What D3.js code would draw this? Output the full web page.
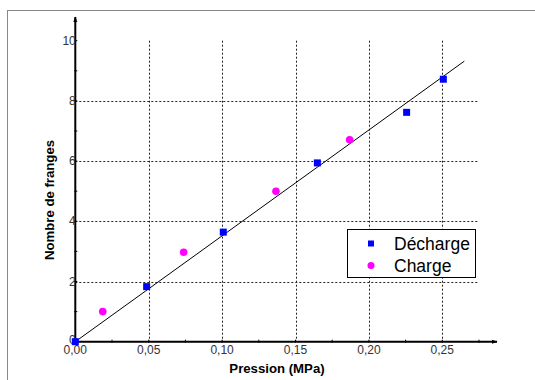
<!DOCTYPE html>
<html>
<head>
<meta charset="utf-8">
<script src="https://cdn.jsdelivr.net/npm/d3@7"></script>
<style>
  body { margin: 0; background: #fff; }
  svg { display: block; font-family: Arial, "Liberation Sans", sans-serif; }
</style>
</head>
<body>
<svg id="chart" width="535" height="380"></svg>
<script>
// data
const dechargeP = [0, 0.0486, 0.1008, 0.1649, 0.2257, 0.2507];
const dechargeN = [0, 1.83, 3.64, 5.94, 7.62, 8.72];
const chargeP = [0.0187, 0.0738, 0.1367, 0.1869];
const chargeN = [1.0, 2.97, 5.0, 6.71];
const fitP = [0, 0.265];
const fitN = [0, 9.32];
const xTicks = [0, 0.05, 0.10, 0.15, 0.20, 0.25];
const yTicks = [0, 2, 4, 6, 8, 10];

const svg = d3.select("#chart");
const x = d3.scaleLinear().domain([0, 0.25]).range([75.3, 442.3]);
const y = d3.scaleLinear().domain([0, 10]).range([341.7, 40.7]);

// outer frame
svg.append("rect")
  .attr("x", 7.5).attr("y", 10.5)
  .attr("width", 540).attr("height", 380)
  .attr("fill", "none").attr("stroke", "#888").attr("stroke-width", 1);

// grid
const grid = svg.append("g").attr("stroke", "#222").attr("stroke-width", 1).attr("stroke-dasharray", "2,2");
grid.selectAll("line.v")
  .data(xTicks.slice(1))
  .join("line")
  .attr("x1", d => Math.round(x(d)) + 0.5).attr("x2", d => Math.round(x(d)) + 0.5)
  .attr("y1", y(10)).attr("y2", y(0));
grid.selectAll("line.h")
  .data(yTicks.slice(1, 5))
  .join("line")
  .attr("y1", d => Math.round(y(d)) + 0.5).attr("y2", d => Math.round(y(d)) + 0.5)
  .attr("x1", x(0)).attr("x2", x(0.2745));

// fit line
svg.append("line")
  .attr("x1", x(fitP[0])).attr("y1", y(fitN[0]))
  .attr("x2", x(fitP[1])).attr("y2", y(fitN[1]))
  .attr("stroke", "#000").attr("stroke-width", 1);

// axes lines with arrows
svg.append("defs").append("marker")
  .attr("id", "arrow").attr("viewBox", "0 0 10 10")
  .attr("refX", 9).attr("refY", 5)
  .attr("markerWidth", 6).attr("markerHeight", 6).attr("markerUnits", "userSpaceOnUse")
  .attr("orient", "auto")
  .append("path").attr("d", "M0,1.5L10,5L0,8.5Z").attr("fill", "#000");

const axes = svg.append("g").attr("stroke", "#000").attr("stroke-width", 2);
axes.append("line")
  .attr("x1", x(0)).attr("y1", y(0)).attr("x2", 497).attr("y2", y(0))
  .attr("marker-end", "url(#arrow)");
axes.append("line")
  .attr("x1", x(0)).attr("y1", y(0)).attr("x2", x(0)).attr("y2", 17)
  .attr("marker-end", "url(#arrow)");

// ticks
const xMinor = d3.range(0, 0.2751, 0.025);
svg.append("g").selectAll("line")
  .data(xMinor)
  .join("line")
  .attr("x1", d => x(d)).attr("x2", d => x(d))
  .attr("y1", y(0) - 2).attr("y2", y(0) + 1)
  .attr("stroke", "#000").attr("stroke-width", 1);
svg.append("g").selectAll("line")
  .data(d3.range(0, 10.01, 1))
  .join("line")
  .attr("x1", x(0) - 1).attr("x2", x(0) + 2)
  .attr("y1", d => y(d)).attr("y2", d => y(d))
  .attr("stroke", "#000").attr("stroke-width", 1);

// tick labels
const fmt = d => d.toFixed(2).replace(".", ",");
svg.append("g").selectAll("text")
  .data(xTicks)
  .join("text")
  .attr("x", d => x(d)).attr("y", y(0) + 12)
  .attr("text-anchor", "middle")
  .attr("font-size", 12).attr("fill", "#333")
  .text(fmt);
svg.append("g").selectAll("text")
  .data(yTicks)
  .join("text")
  .attr("x", x(0) + 0.5).attr("y", d => y(d) + (d === 0 ? 2 : 4))
  .attr("text-anchor", "end")
  .attr("font-size", 12).attr("fill", "#333")
  .text(d => d);

// axis titles
svg.append("text")
  .attr("x", 277).attr("y", 373)
  .attr("text-anchor", "middle")
  .attr("font-size", 13.2).attr("font-weight", "bold")
  .text("Pression (MPa)");
svg.append("text")
  .attr("transform", "translate(54,200) rotate(-90)")
  .attr("text-anchor", "middle")
  .attr("font-size", 13.2).attr("font-weight", "bold")
  .text("Nombre de franges");

// points
const dech = dechargeP.map((p, i) => ({ p: p, n: dechargeN[i] }));
const ch = chargeP.map((p, i) => ({ p: p, n: chargeN[i] }));
svg.append("g").selectAll("rect")
  .data(dech)
  .join("rect")
  .attr("x", d => x(d.p) - 3.5).attr("y", d => y(d.n) - 3.5)
  .attr("width", 7).attr("height", 7)
  .attr("fill", "#0000ff");
svg.append("g").selectAll("circle")
  .data(ch)
  .join("circle")
  .attr("cx", d => x(d.p)).attr("cy", d => y(d.n))
  .attr("r", 3.8)
  .attr("fill", "#ff00ff");

// legend
const lg = svg.append("g");
lg.append("rect")
  .attr("x", 347.5).attr("y", 229.5).attr("width", 128).attr("height", 48)
  .attr("fill", "#fff").attr("stroke", "#000").attr("stroke-width", 1);
lg.append("rect").attr("x", 368).attr("y", 240.5).attr("width", 6).attr("height", 6).attr("fill", "#0000ff");
lg.append("circle").attr("cx", 371).attr("cy", 265.5).attr("r", 3.5).attr("fill", "#ff00ff");
lg.append("text").attr("x", 394).attr("y", 249.5).attr("font-size", 17.5).text("Décharge");
lg.append("text").attr("x", 394).attr("y", 272).attr("font-size", 17.5).text("Charge");
</script>
</body>
</html>
